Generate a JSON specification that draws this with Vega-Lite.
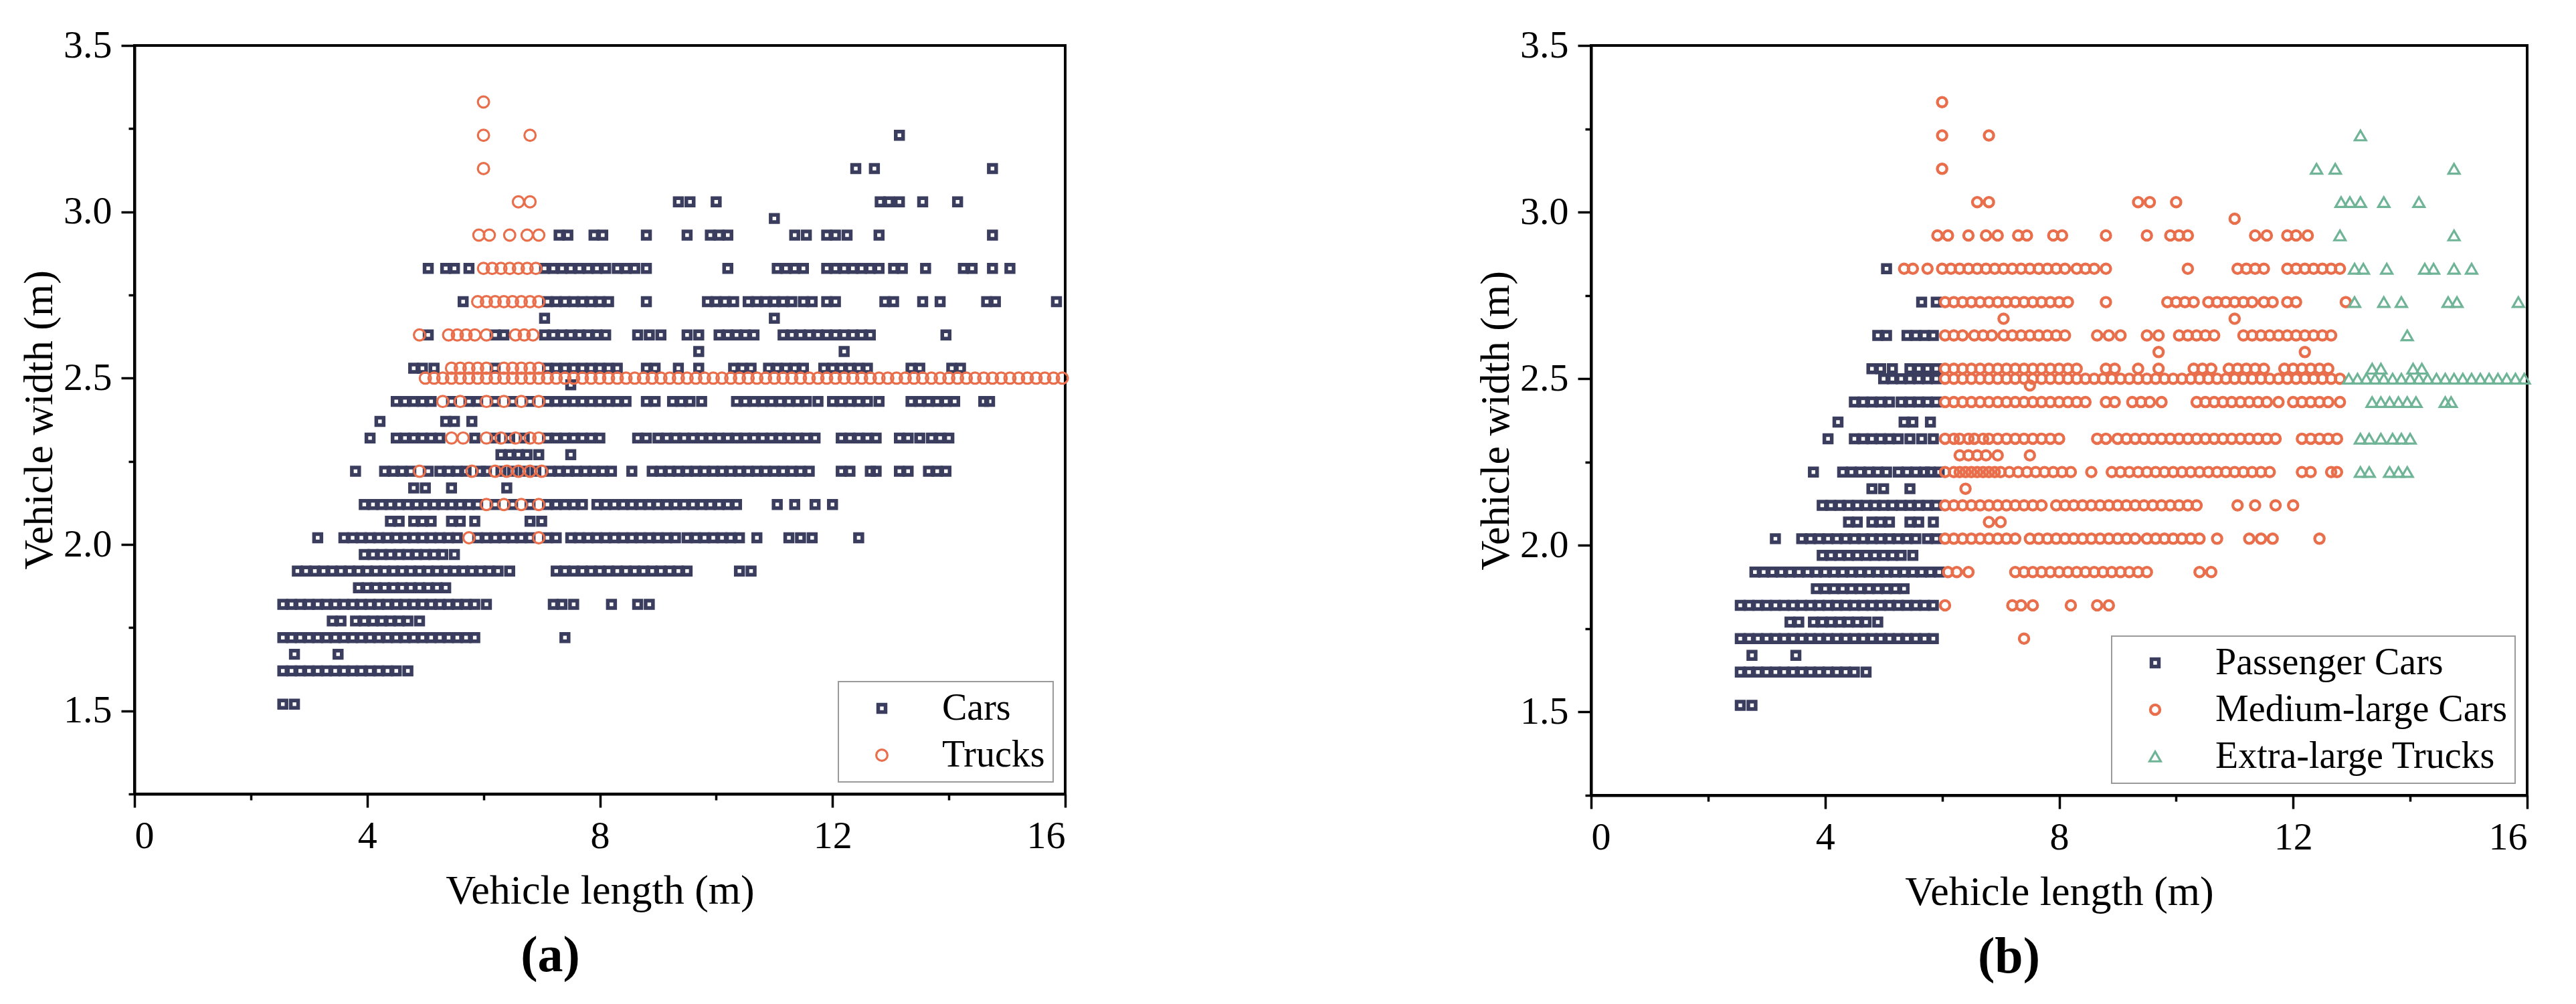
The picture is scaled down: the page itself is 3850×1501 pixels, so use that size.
{
"$schema":"https://vega.github.io/schema/vega-lite/v6.json",
"background":"white",
"padding":{"left":25,"top":37,"right":10,"bottom":10},
"config":{
"font":"Liberation Serif",
"view":{"stroke":"black","strokeWidth":4},
"axis":{"domainColor":"black","domainWidth":4,"tickColor":"black","tickWidth":3.5,"labelFont":"Liberation Serif","labelFontSize":58,"labelColor":"black","titleFont":"Liberation Serif","titleFontSize":62,"titleFontWeight":"normal","titleColor":"black","grid":false,"labelPadding":14},
"legend":{"orient":"bottom-right","offset":18,"strokeColor":"#9a9a9a","strokeWidth":2,"fillColor":"white","padding":12,"labelFont":"Liberation Serif","labelFontSize":56,"labelColor":"black","symbolOffset":25,"labelOffset":62,"rowPadding":14,"labelLimit":1000}
},
"datasets":{"pts":[
{"l":6.0,"w":3.33,"a":"Trucks","b":"Medium-large Cars"},
{"l":6.0,"w":3.23,"a":"Trucks","b":"Medium-large Cars"},{"l":6.8,"w":3.23,"a":"Trucks","b":"Medium-large Cars"},{"l":13.15,"w":3.23,"a":"Cars","b":"Extra-large Trucks"},
{"l":6.0,"w":3.13,"a":"Trucks","b":"Medium-large Cars"},{"l":12.4,"w":3.13,"a":"Cars","b":"Extra-large Trucks"},{"l":12.72,"w":3.13,"a":"Cars","b":"Extra-large Trucks"},{"l":14.75,"w":3.13,"a":"Cars","b":"Extra-large Trucks"},
{"l":6.6,"w":3.03,"a":"Trucks","b":"Medium-large Cars"},{"l":6.8,"w":3.03,"a":"Trucks","b":"Medium-large Cars"},{"l":9.35,"w":3.03,"a":"Cars","b":"Medium-large Cars"},{"l":9.55,"w":3.03,"a":"Cars","b":"Medium-large Cars"},{"l":10.0,"w":3.03,"a":"Cars","b":"Medium-large Cars"},{"l":12.82,"w":3.03,"a":"Cars","b":"Extra-large Trucks"},{"l":12.97,"w":3.03,"a":"Cars","b":"Extra-large Trucks"},{"l":13.15,"w":3.03,"a":"Cars","b":"Extra-large Trucks"},{"l":13.55,"w":3.03,"a":"Cars","b":"Extra-large Trucks"},{"l":14.15,"w":3.03,"a":"Cars","b":"Extra-large Trucks"},
{"l":11.0,"w":2.98,"a":"Cars","b":"Medium-large Cars"},
{"l":5.92,"w":2.93,"a":"Trucks","b":"Medium-large Cars"},{"l":6.1,"w":2.93,"a":"Trucks","b":"Medium-large Cars"},{"l":6.45,"w":2.93,"a":"Trucks","b":"Medium-large Cars"},{"l":6.75,"w":2.93,"a":"Trucks","b":"Medium-large Cars"},{"l":6.95,"w":2.93,"a":"Trucks","b":"Medium-large Cars"},
{"l":7.3,"w":2.93,"a":"Cars","b":"Medium-large Cars"},{"l":7.45,"w":2.93,"a":"Cars","b":"Medium-large Cars"},{"l":7.9,"w":2.93,"a":"Cars","b":"Medium-large Cars"},{"l":8.05,"w":2.93,"a":"Cars","b":"Medium-large Cars"},{"l":8.8,"w":2.93,"a":"Cars","b":"Medium-large Cars"},{"l":9.5,"w":2.93,"a":"Cars","b":"Medium-large Cars"},{"l":9.9,"w":2.93,"a":"Cars","b":"Medium-large Cars"},{"l":10.05,"w":2.93,"a":"Cars","b":"Medium-large Cars"},{"l":10.2,"w":2.93,"a":"Cars","b":"Medium-large Cars"},{"l":11.35,"w":2.93,"a":"Cars","b":"Medium-large Cars"},{"l":11.55,"w":2.93,"a":"Cars","b":"Medium-large Cars"},{"l":11.9,"w":2.93,"a":"Cars","b":"Medium-large Cars"},{"l":12.05,"w":2.93,"a":"Cars","b":"Medium-large Cars"},{"l":12.25,"w":2.93,"a":"Cars","b":"Medium-large Cars"},{"l":12.8,"w":2.93,"a":"Cars","b":"Extra-large Trucks"},{"l":14.75,"w":2.93,"a":"Cars","b":"Extra-large Trucks"},
{"l":5.05,"w":2.83,"a":"Cars","b":"Passenger Cars"},{"l":5.35,"w":2.83,"a":"Cars","b":"Medium-large Cars"},{"l":5.5,"w":2.83,"a":"Cars","b":"Medium-large Cars"},{"l":5.75,"w":2.83,"a":"Cars","b":"Medium-large Cars"},
{"l":6.0,"w":2.83,"a":"Trucks","b":"Medium-large Cars"},{"l":6.15,"w":2.83,"a":"Trucks","b":"Medium-large Cars"},{"l":6.3,"w":2.83,"a":"Trucks","b":"Medium-large Cars"},{"l":6.45,"w":2.83,"a":"Trucks","b":"Medium-large Cars"},{"l":6.6,"w":2.83,"a":"Trucks","b":"Medium-large Cars"},{"l":6.75,"w":2.83,"a":"Trucks","b":"Medium-large Cars"},{"l":6.9,"w":2.83,"a":"Trucks","b":"Medium-large Cars"},
{"l":7.05,"w":2.83,"a":"Cars","b":"Medium-large Cars"},{"l":7.2,"w":2.83,"a":"Cars","b":"Medium-large Cars"},{"l":7.35,"w":2.83,"a":"Cars","b":"Medium-large Cars"},{"l":7.5,"w":2.83,"a":"Cars","b":"Medium-large Cars"},{"l":7.65,"w":2.83,"a":"Cars","b":"Medium-large Cars"},{"l":7.8,"w":2.83,"a":"Cars","b":"Medium-large Cars"},{"l":7.95,"w":2.83,"a":"Cars","b":"Medium-large Cars"},{"l":8.1,"w":2.83,"a":"Cars","b":"Medium-large Cars"},{"l":8.3,"w":2.83,"a":"Cars","b":"Medium-large Cars"},{"l":8.45,"w":2.83,"a":"Cars","b":"Medium-large Cars"},{"l":8.6,"w":2.83,"a":"Cars","b":"Medium-large Cars"},{"l":8.8,"w":2.83,"a":"Cars","b":"Medium-large Cars"},{"l":10.2,"w":2.83,"a":"Cars","b":"Medium-large Cars"},{"l":11.05,"w":2.83,"a":"Cars","b":"Medium-large Cars"},{"l":11.2,"w":2.83,"a":"Cars","b":"Medium-large Cars"},{"l":11.35,"w":2.83,"a":"Cars","b":"Medium-large Cars"},{"l":11.5,"w":2.83,"a":"Cars","b":"Medium-large Cars"},{"l":11.9,"w":2.83,"a":"Cars","b":"Medium-large Cars"},{"l":12.05,"w":2.83,"a":"Cars","b":"Medium-large Cars"},{"l":12.2,"w":2.83,"a":"Cars","b":"Medium-large Cars"},{"l":12.35,"w":2.83,"a":"Cars","b":"Medium-large Cars"},{"l":12.5,"w":2.83,"a":"Cars","b":"Medium-large Cars"},{"l":12.65,"w":2.83,"a":"Cars","b":"Medium-large Cars"},{"l":12.8,"w":2.83,"a":"Cars","b":"Medium-large Cars"},
{"l":13.05,"w":2.83,"a":"Cars","b":"Extra-large Trucks"},{"l":13.2,"w":2.83,"a":"Cars","b":"Extra-large Trucks"},{"l":13.6,"w":2.83,"a":"Cars","b":"Extra-large Trucks"},{"l":14.25,"w":2.83,"a":"Cars","b":"Extra-large Trucks"},{"l":14.4,"w":2.83,"a":"Cars","b":"Extra-large Trucks"},{"l":14.75,"w":2.83,"a":"Cars","b":"Extra-large Trucks"},{"l":15.05,"w":2.83,"a":"Cars","b":"Extra-large Trucks"},
{"l":5.65,"w":2.73,"a":"Cars","b":"Passenger Cars"},{"l":5.9,"w":2.73,"a":"Trucks","b":"Passenger Cars"},
{"l":6.05,"w":2.73,"a":"Trucks","b":"Medium-large Cars"},{"l":6.2,"w":2.73,"a":"Trucks","b":"Medium-large Cars"},{"l":6.35,"w":2.73,"a":"Trucks","b":"Medium-large Cars"},{"l":6.5,"w":2.73,"a":"Trucks","b":"Medium-large Cars"},{"l":6.65,"w":2.73,"a":"Trucks","b":"Medium-large Cars"},{"l":6.8,"w":2.73,"a":"Trucks","b":"Medium-large Cars"},{"l":6.95,"w":2.73,"a":"Trucks","b":"Medium-large Cars"},
{"l":7.1,"w":2.73,"a":"Cars","b":"Medium-large Cars"},{"l":7.25,"w":2.73,"a":"Cars","b":"Medium-large Cars"},{"l":7.4,"w":2.73,"a":"Cars","b":"Medium-large Cars"},{"l":7.55,"w":2.73,"a":"Cars","b":"Medium-large Cars"},{"l":7.7,"w":2.73,"a":"Cars","b":"Medium-large Cars"},{"l":7.85,"w":2.73,"a":"Cars","b":"Medium-large Cars"},{"l":8.0,"w":2.73,"a":"Cars","b":"Medium-large Cars"},{"l":8.15,"w":2.73,"a":"Cars","b":"Medium-large Cars"},{"l":8.8,"w":2.73,"a":"Cars","b":"Medium-large Cars"},{"l":9.85,"w":2.73,"a":"Cars","b":"Medium-large Cars"},{"l":10.0,"w":2.73,"a":"Cars","b":"Medium-large Cars"},{"l":10.15,"w":2.73,"a":"Cars","b":"Medium-large Cars"},{"l":10.3,"w":2.73,"a":"Cars","b":"Medium-large Cars"},{"l":10.55,"w":2.73,"a":"Cars","b":"Medium-large Cars"},{"l":10.7,"w":2.73,"a":"Cars","b":"Medium-large Cars"},{"l":10.85,"w":2.73,"a":"Cars","b":"Medium-large Cars"},{"l":11.0,"w":2.73,"a":"Cars","b":"Medium-large Cars"},{"l":11.15,"w":2.73,"a":"Cars","b":"Medium-large Cars"},{"l":11.3,"w":2.73,"a":"Cars","b":"Medium-large Cars"},{"l":11.5,"w":2.73,"a":"Cars","b":"Medium-large Cars"},{"l":11.65,"w":2.73,"a":"Cars","b":"Medium-large Cars"},{"l":11.9,"w":2.73,"a":"Cars","b":"Medium-large Cars"},{"l":12.05,"w":2.73,"a":"Cars","b":"Medium-large Cars"},{"l":12.9,"w":2.73,"a":"Cars","b":"Medium-large Cars"},
{"l":13.05,"w":2.73,"a":"Cars","b":"Extra-large Trucks"},{"l":13.55,"w":2.73,"a":"Cars","b":"Extra-large Trucks"},{"l":13.85,"w":2.73,"a":"Cars","b":"Extra-large Trucks"},{"l":14.65,"w":2.73,"a":"Cars","b":"Extra-large Trucks"},{"l":14.8,"w":2.73,"a":"Cars","b":"Extra-large Trucks"},{"l":15.85,"w":2.73,"a":"Cars","b":"Extra-large Trucks"},
{"l":7.05,"w":2.68,"a":"Cars","b":"Medium-large Cars"},{"l":11.0,"w":2.68,"a":"Cars","b":"Medium-large Cars"},
{"l":4.9,"w":2.63,"a":"Trucks","b":"Passenger Cars"},{"l":5.05,"w":2.63,"a":"Cars","b":"Passenger Cars"},{"l":5.4,"w":2.63,"a":"Trucks","b":"Passenger Cars"},{"l":5.55,"w":2.63,"a":"Trucks","b":"Passenger Cars"},{"l":5.7,"w":2.63,"a":"Trucks","b":"Passenger Cars"},{"l":5.85,"w":2.63,"a":"Trucks","b":"Passenger Cars"},
{"l":6.05,"w":2.63,"a":"Trucks","b":"Medium-large Cars"},{"l":6.55,"w":2.63,"a":"Trucks","b":"Medium-large Cars"},{"l":6.7,"w":2.63,"a":"Trucks","b":"Medium-large Cars"},{"l":6.85,"w":2.63,"a":"Trucks","b":"Medium-large Cars"},
{"l":6.2,"w":2.63,"a":"Cars","b":"Medium-large Cars"},{"l":6.35,"w":2.63,"a":"Cars","b":"Medium-large Cars"},{"l":7.05,"w":2.63,"a":"Cars","b":"Medium-large Cars"},{"l":7.2,"w":2.63,"a":"Cars","b":"Medium-large Cars"},{"l":7.35,"w":2.63,"a":"Cars","b":"Medium-large Cars"},{"l":7.5,"w":2.63,"a":"Cars","b":"Medium-large Cars"},{"l":7.65,"w":2.63,"a":"Cars","b":"Medium-large Cars"},{"l":7.8,"w":2.63,"a":"Cars","b":"Medium-large Cars"},{"l":7.95,"w":2.63,"a":"Cars","b":"Medium-large Cars"},{"l":8.1,"w":2.63,"a":"Cars","b":"Medium-large Cars"},{"l":8.65,"w":2.63,"a":"Cars","b":"Medium-large Cars"},{"l":8.85,"w":2.63,"a":"Cars","b":"Medium-large Cars"},{"l":9.05,"w":2.63,"a":"Cars","b":"Medium-large Cars"},{"l":9.5,"w":2.63,"a":"Cars","b":"Medium-large Cars"},{"l":9.7,"w":2.63,"a":"Cars","b":"Medium-large Cars"},{"l":10.05,"w":2.63,"a":"Cars","b":"Medium-large Cars"},{"l":10.2,"w":2.63,"a":"Cars","b":"Medium-large Cars"},{"l":10.35,"w":2.63,"a":"Cars","b":"Medium-large Cars"},{"l":10.5,"w":2.63,"a":"Cars","b":"Medium-large Cars"},{"l":10.65,"w":2.63,"a":"Cars","b":"Medium-large Cars"},{"l":11.15,"w":2.63,"a":"Cars","b":"Medium-large Cars"},{"l":11.3,"w":2.63,"a":"Cars","b":"Medium-large Cars"},{"l":11.45,"w":2.63,"a":"Cars","b":"Medium-large Cars"},{"l":11.6,"w":2.63,"a":"Cars","b":"Medium-large Cars"},{"l":11.75,"w":2.63,"a":"Cars","b":"Medium-large Cars"},{"l":11.9,"w":2.63,"a":"Cars","b":"Medium-large Cars"},{"l":12.05,"w":2.63,"a":"Cars","b":"Medium-large Cars"},{"l":12.2,"w":2.63,"a":"Cars","b":"Medium-large Cars"},{"l":12.35,"w":2.63,"a":"Cars","b":"Medium-large Cars"},{"l":12.5,"w":2.63,"a":"Cars","b":"Medium-large Cars"},{"l":12.65,"w":2.63,"a":"Cars","b":"Medium-large Cars"},{"l":13.95,"w":2.63,"a":"Cars","b":"Extra-large Trucks"},
{"l":9.7,"w":2.58,"a":"Cars","b":"Medium-large Cars"},{"l":12.2,"w":2.58,"a":"Cars","b":"Medium-large Cars"},
{"l":4.8,"w":2.53,"a":"Cars","b":"Passenger Cars"},{"l":4.95,"w":2.53,"a":"Cars","b":"Passenger Cars"},{"l":5.15,"w":2.53,"a":"Cars","b":"Passenger Cars"},{"l":5.45,"w":2.53,"a":"Trucks","b":"Passenger Cars"},{"l":5.6,"w":2.53,"a":"Trucks","b":"Passenger Cars"},{"l":5.75,"w":2.53,"a":"Trucks","b":"Passenger Cars"},{"l":5.9,"w":2.53,"a":"Trucks","b":"Passenger Cars"},
{"l":6.05,"w":2.53,"a":"Trucks","b":"Medium-large Cars"},{"l":6.35,"w":2.53,"a":"Trucks","b":"Medium-large Cars"},{"l":6.5,"w":2.53,"a":"Trucks","b":"Medium-large Cars"},{"l":6.65,"w":2.53,"a":"Trucks","b":"Medium-large Cars"},{"l":6.8,"w":2.53,"a":"Trucks","b":"Medium-large Cars"},{"l":6.95,"w":2.53,"a":"Trucks","b":"Medium-large Cars"},
{"l":6.2,"w":2.53,"a":"Cars","b":"Medium-large Cars"},{"l":7.1,"w":2.53,"a":"Cars","b":"Medium-large Cars"},{"l":7.25,"w":2.53,"a":"Cars","b":"Medium-large Cars"},{"l":7.4,"w":2.53,"a":"Cars","b":"Medium-large Cars"},{"l":7.55,"w":2.53,"a":"Cars","b":"Medium-large Cars"},{"l":7.7,"w":2.53,"a":"Cars","b":"Medium-large Cars"},{"l":7.85,"w":2.53,"a":"Cars","b":"Medium-large Cars"},{"l":8.0,"w":2.53,"a":"Cars","b":"Medium-large Cars"},{"l":8.15,"w":2.53,"a":"Cars","b":"Medium-large Cars"},{"l":8.3,"w":2.53,"a":"Cars","b":"Medium-large Cars"},{"l":8.8,"w":2.53,"a":"Cars","b":"Medium-large Cars"},{"l":8.95,"w":2.53,"a":"Cars","b":"Medium-large Cars"},{"l":9.35,"w":2.53,"a":"Cars","b":"Medium-large Cars"},{"l":9.7,"w":2.53,"a":"Cars","b":"Medium-large Cars"},{"l":10.3,"w":2.53,"a":"Cars","b":"Medium-large Cars"},{"l":10.45,"w":2.53,"a":"Cars","b":"Medium-large Cars"},{"l":10.6,"w":2.53,"a":"Cars","b":"Medium-large Cars"},{"l":10.9,"w":2.53,"a":"Cars","b":"Medium-large Cars"},{"l":11.05,"w":2.53,"a":"Cars","b":"Medium-large Cars"},{"l":11.2,"w":2.53,"a":"Cars","b":"Medium-large Cars"},{"l":11.35,"w":2.53,"a":"Cars","b":"Medium-large Cars"},{"l":11.5,"w":2.53,"a":"Cars","b":"Medium-large Cars"},{"l":11.85,"w":2.53,"a":"Cars","b":"Medium-large Cars"},{"l":12.0,"w":2.53,"a":"Cars","b":"Medium-large Cars"},{"l":12.15,"w":2.53,"a":"Cars","b":"Medium-large Cars"},{"l":12.3,"w":2.53,"a":"Cars","b":"Medium-large Cars"},{"l":12.45,"w":2.53,"a":"Cars","b":"Medium-large Cars"},{"l":12.6,"w":2.53,"a":"Cars","b":"Medium-large Cars"},
{"l":13.35,"w":2.53,"a":"Cars","b":"Extra-large Trucks"},{"l":13.5,"w":2.53,"a":"Cars","b":"Extra-large Trucks"},{"l":14.05,"w":2.53,"a":"Cars","b":"Extra-large Trucks"},{"l":14.2,"w":2.53,"a":"Cars","b":"Extra-large Trucks"},
{"l":5.0,"w":2.5,"a":"Trucks","b":"Passenger Cars"},{"l":5.15,"w":2.5,"a":"Trucks","b":"Passenger Cars"},{"l":5.3,"w":2.5,"a":"Trucks","b":"Passenger Cars"},{"l":5.45,"w":2.5,"a":"Trucks","b":"Passenger Cars"},{"l":5.6,"w":2.5,"a":"Trucks","b":"Passenger Cars"},{"l":5.75,"w":2.5,"a":"Trucks","b":"Passenger Cars"},{"l":5.9,"w":2.5,"a":"Trucks","b":"Passenger Cars"},
{"l":6.05,"w":2.5,"a":"Trucks","b":"Medium-large Cars"},{"l":6.2,"w":2.5,"a":"Trucks","b":"Medium-large Cars"},{"l":6.35,"w":2.5,"a":"Trucks","b":"Medium-large Cars"},{"l":6.5,"w":2.5,"a":"Trucks","b":"Medium-large Cars"},{"l":6.65,"w":2.5,"a":"Trucks","b":"Medium-large Cars"},{"l":6.8,"w":2.5,"a":"Trucks","b":"Medium-large Cars"},{"l":6.95,"w":2.5,"a":"Trucks","b":"Medium-large Cars"},{"l":7.1,"w":2.5,"a":"Trucks","b":"Medium-large Cars"},{"l":7.25,"w":2.5,"a":"Trucks","b":"Medium-large Cars"},{"l":7.4,"w":2.5,"a":"Trucks","b":"Medium-large Cars"},{"l":7.55,"w":2.5,"a":"Trucks","b":"Medium-large Cars"},{"l":7.7,"w":2.5,"a":"Trucks","b":"Medium-large Cars"},{"l":7.85,"w":2.5,"a":"Trucks","b":"Medium-large Cars"},{"l":8.0,"w":2.5,"a":"Trucks","b":"Medium-large Cars"},{"l":8.15,"w":2.5,"a":"Trucks","b":"Medium-large Cars"},{"l":8.3,"w":2.5,"a":"Trucks","b":"Medium-large Cars"},{"l":8.45,"w":2.5,"a":"Trucks","b":"Medium-large Cars"},{"l":8.6,"w":2.5,"a":"Trucks","b":"Medium-large Cars"},{"l":8.75,"w":2.5,"a":"Trucks","b":"Medium-large Cars"},{"l":8.9,"w":2.5,"a":"Trucks","b":"Medium-large Cars"},{"l":9.05,"w":2.5,"a":"Trucks","b":"Medium-large Cars"},{"l":9.2,"w":2.5,"a":"Trucks","b":"Medium-large Cars"},{"l":9.35,"w":2.5,"a":"Trucks","b":"Medium-large Cars"},{"l":9.5,"w":2.5,"a":"Trucks","b":"Medium-large Cars"},{"l":9.65,"w":2.5,"a":"Trucks","b":"Medium-large Cars"},{"l":9.8,"w":2.5,"a":"Trucks","b":"Medium-large Cars"},{"l":9.95,"w":2.5,"a":"Trucks","b":"Medium-large Cars"},{"l":10.1,"w":2.5,"a":"Trucks","b":"Medium-large Cars"},{"l":10.25,"w":2.5,"a":"Trucks","b":"Medium-large Cars"},{"l":10.4,"w":2.5,"a":"Trucks","b":"Medium-large Cars"},{"l":10.55,"w":2.5,"a":"Trucks","b":"Medium-large Cars"},{"l":10.7,"w":2.5,"a":"Trucks","b":"Medium-large Cars"},{"l":10.85,"w":2.5,"a":"Trucks","b":"Medium-large Cars"},{"l":11.0,"w":2.5,"a":"Trucks","b":"Medium-large Cars"},{"l":11.15,"w":2.5,"a":"Trucks","b":"Medium-large Cars"},{"l":11.3,"w":2.5,"a":"Trucks","b":"Medium-large Cars"},{"l":11.45,"w":2.5,"a":"Trucks","b":"Medium-large Cars"},{"l":11.6,"w":2.5,"a":"Trucks","b":"Medium-large Cars"},{"l":11.75,"w":2.5,"a":"Trucks","b":"Medium-large Cars"},{"l":11.9,"w":2.5,"a":"Trucks","b":"Medium-large Cars"},{"l":12.05,"w":2.5,"a":"Trucks","b":"Medium-large Cars"},{"l":12.2,"w":2.5,"a":"Trucks","b":"Medium-large Cars"},{"l":12.35,"w":2.5,"a":"Trucks","b":"Medium-large Cars"},{"l":12.5,"w":2.5,"a":"Trucks","b":"Medium-large Cars"},{"l":12.65,"w":2.5,"a":"Trucks","b":"Medium-large Cars"},{"l":12.8,"w":2.5,"a":"Trucks","b":"Medium-large Cars"},
{"l":12.95,"w":2.5,"a":"Trucks","b":"Extra-large Trucks"},{"l":13.1,"w":2.5,"a":"Trucks","b":"Extra-large Trucks"},{"l":13.25,"w":2.5,"a":"Trucks","b":"Extra-large Trucks"},{"l":13.4,"w":2.5,"a":"Trucks","b":"Extra-large Trucks"},{"l":13.55,"w":2.5,"a":"Trucks","b":"Extra-large Trucks"},{"l":13.7,"w":2.5,"a":"Trucks","b":"Extra-large Trucks"},{"l":13.85,"w":2.5,"a":"Trucks","b":"Extra-large Trucks"},{"l":14.0,"w":2.5,"a":"Trucks","b":"Extra-large Trucks"},{"l":14.15,"w":2.5,"a":"Trucks","b":"Extra-large Trucks"},{"l":14.3,"w":2.5,"a":"Trucks","b":"Extra-large Trucks"},{"l":14.45,"w":2.5,"a":"Trucks","b":"Extra-large Trucks"},{"l":14.6,"w":2.5,"a":"Trucks","b":"Extra-large Trucks"},{"l":14.75,"w":2.5,"a":"Trucks","b":"Extra-large Trucks"},{"l":14.9,"w":2.5,"a":"Trucks","b":"Extra-large Trucks"},{"l":15.05,"w":2.5,"a":"Trucks","b":"Extra-large Trucks"},{"l":15.2,"w":2.5,"a":"Trucks","b":"Extra-large Trucks"},{"l":15.35,"w":2.5,"a":"Trucks","b":"Extra-large Trucks"},{"l":15.5,"w":2.5,"a":"Trucks","b":"Extra-large Trucks"},{"l":15.65,"w":2.5,"a":"Trucks","b":"Extra-large Trucks"},{"l":15.8,"w":2.5,"a":"Trucks","b":"Extra-large Trucks"},{"l":15.95,"w":2.5,"a":"Trucks","b":"Extra-large Trucks"},
{"l":7.5,"w":2.48,"a":"Cars","b":"Medium-large Cars"},
{"l":4.5,"w":2.43,"a":"Cars","b":"Passenger Cars"},{"l":4.65,"w":2.43,"a":"Cars","b":"Passenger Cars"},{"l":4.8,"w":2.43,"a":"Cars","b":"Passenger Cars"},{"l":4.95,"w":2.43,"a":"Cars","b":"Passenger Cars"},{"l":5.1,"w":2.43,"a":"Cars","b":"Passenger Cars"},{"l":5.45,"w":2.43,"a":"Cars","b":"Passenger Cars"},{"l":5.75,"w":2.43,"a":"Cars","b":"Passenger Cars"},{"l":5.9,"w":2.43,"a":"Cars","b":"Passenger Cars"},{"l":5.3,"w":2.43,"a":"Trucks","b":"Passenger Cars"},{"l":5.6,"w":2.43,"a":"Trucks","b":"Passenger Cars"},
{"l":6.05,"w":2.43,"a":"Trucks","b":"Medium-large Cars"},{"l":6.35,"w":2.43,"a":"Trucks","b":"Medium-large Cars"},{"l":6.65,"w":2.43,"a":"Trucks","b":"Medium-large Cars"},{"l":6.95,"w":2.43,"a":"Trucks","b":"Medium-large Cars"},
{"l":6.2,"w":2.43,"a":"Cars","b":"Medium-large Cars"},{"l":6.5,"w":2.43,"a":"Cars","b":"Medium-large Cars"},{"l":6.8,"w":2.43,"a":"Cars","b":"Medium-large Cars"},{"l":7.1,"w":2.43,"a":"Cars","b":"Medium-large Cars"},{"l":7.25,"w":2.43,"a":"Cars","b":"Medium-large Cars"},{"l":7.4,"w":2.43,"a":"Cars","b":"Medium-large Cars"},{"l":7.55,"w":2.43,"a":"Cars","b":"Medium-large Cars"},{"l":7.7,"w":2.43,"a":"Cars","b":"Medium-large Cars"},{"l":7.85,"w":2.43,"a":"Cars","b":"Medium-large Cars"},{"l":8.0,"w":2.43,"a":"Cars","b":"Medium-large Cars"},{"l":8.15,"w":2.43,"a":"Cars","b":"Medium-large Cars"},{"l":8.3,"w":2.43,"a":"Cars","b":"Medium-large Cars"},{"l":8.45,"w":2.43,"a":"Cars","b":"Medium-large Cars"},{"l":8.8,"w":2.43,"a":"Cars","b":"Medium-large Cars"},{"l":8.95,"w":2.43,"a":"Cars","b":"Medium-large Cars"},{"l":9.25,"w":2.43,"a":"Cars","b":"Medium-large Cars"},{"l":9.4,"w":2.43,"a":"Cars","b":"Medium-large Cars"},{"l":9.55,"w":2.43,"a":"Cars","b":"Medium-large Cars"},{"l":9.75,"w":2.43,"a":"Cars","b":"Medium-large Cars"},{"l":10.35,"w":2.43,"a":"Cars","b":"Medium-large Cars"},{"l":10.5,"w":2.43,"a":"Cars","b":"Medium-large Cars"},{"l":10.65,"w":2.43,"a":"Cars","b":"Medium-large Cars"},{"l":10.8,"w":2.43,"a":"Cars","b":"Medium-large Cars"},{"l":10.95,"w":2.43,"a":"Cars","b":"Medium-large Cars"},{"l":11.1,"w":2.43,"a":"Cars","b":"Medium-large Cars"},{"l":11.25,"w":2.43,"a":"Cars","b":"Medium-large Cars"},{"l":11.4,"w":2.43,"a":"Cars","b":"Medium-large Cars"},{"l":11.55,"w":2.43,"a":"Cars","b":"Medium-large Cars"},{"l":11.75,"w":2.43,"a":"Cars","b":"Medium-large Cars"},{"l":12.0,"w":2.43,"a":"Cars","b":"Medium-large Cars"},{"l":12.15,"w":2.43,"a":"Cars","b":"Medium-large Cars"},{"l":12.3,"w":2.43,"a":"Cars","b":"Medium-large Cars"},{"l":12.45,"w":2.43,"a":"Cars","b":"Medium-large Cars"},{"l":12.6,"w":2.43,"a":"Cars","b":"Medium-large Cars"},{"l":12.8,"w":2.43,"a":"Cars","b":"Medium-large Cars"},
{"l":13.35,"w":2.43,"a":"Cars","b":"Extra-large Trucks"},{"l":13.5,"w":2.43,"a":"Cars","b":"Extra-large Trucks"},{"l":13.65,"w":2.43,"a":"Cars","b":"Extra-large Trucks"},{"l":13.8,"w":2.43,"a":"Cars","b":"Extra-large Trucks"},{"l":13.95,"w":2.43,"a":"Cars","b":"Extra-large Trucks"},{"l":14.1,"w":2.43,"a":"Cars","b":"Extra-large Trucks"},{"l":14.6,"w":2.43,"a":"Cars","b":"Extra-large Trucks"},{"l":14.7,"w":2.43,"a":"Cars","b":"Extra-large Trucks"},
{"l":4.22,"w":2.37,"a":"Cars","b":"Passenger Cars"},{"l":5.35,"w":2.37,"a":"Cars","b":"Passenger Cars"},{"l":5.5,"w":2.37,"a":"Cars","b":"Passenger Cars"},{"l":5.8,"w":2.37,"a":"Cars","b":"Passenger Cars"},
{"l":4.05,"w":2.32,"a":"Cars","b":"Passenger Cars"},{"l":4.5,"w":2.32,"a":"Cars","b":"Passenger Cars"},{"l":4.65,"w":2.32,"a":"Cars","b":"Passenger Cars"},{"l":4.8,"w":2.32,"a":"Cars","b":"Passenger Cars"},{"l":4.95,"w":2.32,"a":"Cars","b":"Passenger Cars"},{"l":5.1,"w":2.32,"a":"Cars","b":"Passenger Cars"},{"l":5.25,"w":2.32,"a":"Cars","b":"Passenger Cars"},{"l":5.85,"w":2.32,"a":"Cars","b":"Passenger Cars"},{"l":5.45,"w":2.32,"a":"Trucks","b":"Passenger Cars"},{"l":5.65,"w":2.32,"a":"Trucks","b":"Passenger Cars"},
{"l":6.05,"w":2.32,"a":"Trucks","b":"Medium-large Cars"},{"l":6.3,"w":2.32,"a":"Trucks","b":"Medium-large Cars"},{"l":6.55,"w":2.32,"a":"Trucks","b":"Medium-large Cars"},{"l":6.8,"w":2.32,"a":"Trucks","b":"Medium-large Cars"},{"l":6.95,"w":2.32,"a":"Trucks","b":"Medium-large Cars"},
{"l":6.2,"w":2.32,"a":"Cars","b":"Medium-large Cars"},{"l":6.45,"w":2.32,"a":"Cars","b":"Medium-large Cars"},{"l":6.7,"w":2.32,"a":"Cars","b":"Medium-large Cars"},{"l":7.1,"w":2.32,"a":"Cars","b":"Medium-large Cars"},{"l":7.25,"w":2.32,"a":"Cars","b":"Medium-large Cars"},{"l":7.4,"w":2.32,"a":"Cars","b":"Medium-large Cars"},{"l":7.55,"w":2.32,"a":"Cars","b":"Medium-large Cars"},{"l":7.7,"w":2.32,"a":"Cars","b":"Medium-large Cars"},{"l":7.85,"w":2.32,"a":"Cars","b":"Medium-large Cars"},{"l":8.0,"w":2.32,"a":"Cars","b":"Medium-large Cars"},{"l":8.65,"w":2.32,"a":"Cars","b":"Medium-large Cars"},{"l":8.8,"w":2.32,"a":"Cars","b":"Medium-large Cars"},{"l":9.0,"w":2.32,"a":"Cars","b":"Medium-large Cars"},{"l":9.15,"w":2.32,"a":"Cars","b":"Medium-large Cars"},{"l":9.3,"w":2.32,"a":"Cars","b":"Medium-large Cars"},{"l":9.45,"w":2.32,"a":"Cars","b":"Medium-large Cars"},{"l":9.6,"w":2.32,"a":"Cars","b":"Medium-large Cars"},{"l":9.75,"w":2.32,"a":"Cars","b":"Medium-large Cars"},{"l":9.9,"w":2.32,"a":"Cars","b":"Medium-large Cars"},{"l":10.05,"w":2.32,"a":"Cars","b":"Medium-large Cars"},{"l":10.2,"w":2.32,"a":"Cars","b":"Medium-large Cars"},{"l":10.35,"w":2.32,"a":"Cars","b":"Medium-large Cars"},{"l":10.5,"w":2.32,"a":"Cars","b":"Medium-large Cars"},{"l":10.65,"w":2.32,"a":"Cars","b":"Medium-large Cars"},{"l":10.8,"w":2.32,"a":"Cars","b":"Medium-large Cars"},{"l":10.95,"w":2.32,"a":"Cars","b":"Medium-large Cars"},{"l":11.1,"w":2.32,"a":"Cars","b":"Medium-large Cars"},{"l":11.25,"w":2.32,"a":"Cars","b":"Medium-large Cars"},{"l":11.4,"w":2.32,"a":"Cars","b":"Medium-large Cars"},{"l":11.55,"w":2.32,"a":"Cars","b":"Medium-large Cars"},{"l":11.7,"w":2.32,"a":"Cars","b":"Medium-large Cars"},{"l":12.15,"w":2.32,"a":"Cars","b":"Medium-large Cars"},{"l":12.3,"w":2.32,"a":"Cars","b":"Medium-large Cars"},{"l":12.45,"w":2.32,"a":"Cars","b":"Medium-large Cars"},{"l":12.6,"w":2.32,"a":"Cars","b":"Medium-large Cars"},{"l":12.75,"w":2.32,"a":"Cars","b":"Medium-large Cars"},
{"l":13.15,"w":2.32,"a":"Cars","b":"Extra-large Trucks"},{"l":13.3,"w":2.32,"a":"Cars","b":"Extra-large Trucks"},{"l":13.5,"w":2.32,"a":"Cars","b":"Extra-large Trucks"},{"l":13.7,"w":2.32,"a":"Cars","b":"Extra-large Trucks"},{"l":13.85,"w":2.32,"a":"Cars","b":"Extra-large Trucks"},{"l":14.0,"w":2.32,"a":"Cars","b":"Extra-large Trucks"},
{"l":6.3,"w":2.27,"a":"Cars","b":"Medium-large Cars"},{"l":6.45,"w":2.27,"a":"Cars","b":"Medium-large Cars"},{"l":6.6,"w":2.27,"a":"Cars","b":"Medium-large Cars"},{"l":6.75,"w":2.27,"a":"Cars","b":"Medium-large Cars"},{"l":6.95,"w":2.27,"a":"Cars","b":"Medium-large Cars"},{"l":7.5,"w":2.27,"a":"Cars","b":"Medium-large Cars"},
{"l":3.8,"w":2.22,"a":"Cars","b":"Passenger Cars"},{"l":4.3,"w":2.22,"a":"Cars","b":"Passenger Cars"},{"l":4.45,"w":2.22,"a":"Cars","b":"Passenger Cars"},{"l":4.6,"w":2.22,"a":"Cars","b":"Passenger Cars"},{"l":4.75,"w":2.22,"a":"Cars","b":"Passenger Cars"},{"l":5.05,"w":2.22,"a":"Cars","b":"Passenger Cars"},{"l":5.25,"w":2.22,"a":"Cars","b":"Passenger Cars"},{"l":5.4,"w":2.22,"a":"Cars","b":"Passenger Cars"},{"l":5.55,"w":2.22,"a":"Cars","b":"Passenger Cars"},{"l":5.7,"w":2.22,"a":"Cars","b":"Passenger Cars"},{"l":5.95,"w":2.22,"a":"Cars","b":"Passenger Cars"},{"l":4.9,"w":2.22,"a":"Trucks","b":"Passenger Cars"},{"l":5.8,"w":2.22,"a":"Trucks","b":"Passenger Cars"},
{"l":6.2,"w":2.22,"a":"Trucks","b":"Medium-large Cars"},{"l":6.4,"w":2.22,"a":"Trucks","b":"Medium-large Cars"},{"l":6.6,"w":2.22,"a":"Trucks","b":"Medium-large Cars"},{"l":6.8,"w":2.22,"a":"Trucks","b":"Medium-large Cars"},{"l":7.0,"w":2.22,"a":"Trucks","b":"Medium-large Cars"},
{"l":6.05,"w":2.22,"a":"Cars","b":"Medium-large Cars"},{"l":6.3,"w":2.22,"a":"Cars","b":"Medium-large Cars"},{"l":6.5,"w":2.22,"a":"Cars","b":"Medium-large Cars"},{"l":6.7,"w":2.22,"a":"Cars","b":"Medium-large Cars"},{"l":6.9,"w":2.22,"a":"Cars","b":"Medium-large Cars"},{"l":7.15,"w":2.22,"a":"Cars","b":"Medium-large Cars"},{"l":7.3,"w":2.22,"a":"Cars","b":"Medium-large Cars"},{"l":7.45,"w":2.22,"a":"Cars","b":"Medium-large Cars"},{"l":7.6,"w":2.22,"a":"Cars","b":"Medium-large Cars"},{"l":7.75,"w":2.22,"a":"Cars","b":"Medium-large Cars"},{"l":7.9,"w":2.22,"a":"Cars","b":"Medium-large Cars"},{"l":8.05,"w":2.22,"a":"Cars","b":"Medium-large Cars"},{"l":8.2,"w":2.22,"a":"Cars","b":"Medium-large Cars"},{"l":8.55,"w":2.22,"a":"Cars","b":"Medium-large Cars"},{"l":8.9,"w":2.22,"a":"Cars","b":"Medium-large Cars"},{"l":9.05,"w":2.22,"a":"Cars","b":"Medium-large Cars"},{"l":9.2,"w":2.22,"a":"Cars","b":"Medium-large Cars"},{"l":9.35,"w":2.22,"a":"Cars","b":"Medium-large Cars"},{"l":9.5,"w":2.22,"a":"Cars","b":"Medium-large Cars"},{"l":9.65,"w":2.22,"a":"Cars","b":"Medium-large Cars"},{"l":9.8,"w":2.22,"a":"Cars","b":"Medium-large Cars"},{"l":9.95,"w":2.22,"a":"Cars","b":"Medium-large Cars"},{"l":10.1,"w":2.22,"a":"Cars","b":"Medium-large Cars"},{"l":10.25,"w":2.22,"a":"Cars","b":"Medium-large Cars"},{"l":10.4,"w":2.22,"a":"Cars","b":"Medium-large Cars"},{"l":10.55,"w":2.22,"a":"Cars","b":"Medium-large Cars"},{"l":10.7,"w":2.22,"a":"Cars","b":"Medium-large Cars"},{"l":10.85,"w":2.22,"a":"Cars","b":"Medium-large Cars"},{"l":11.0,"w":2.22,"a":"Cars","b":"Medium-large Cars"},{"l":11.15,"w":2.22,"a":"Cars","b":"Medium-large Cars"},{"l":11.3,"w":2.22,"a":"Cars","b":"Medium-large Cars"},{"l":11.45,"w":2.22,"a":"Cars","b":"Medium-large Cars"},{"l":11.6,"w":2.22,"a":"Cars","b":"Medium-large Cars"},{"l":12.15,"w":2.22,"a":"Cars","b":"Medium-large Cars"},{"l":12.3,"w":2.22,"a":"Cars","b":"Medium-large Cars"},{"l":12.65,"w":2.22,"a":"Cars","b":"Medium-large Cars"},{"l":12.75,"w":2.22,"a":"Cars","b":"Medium-large Cars"},
{"l":13.15,"w":2.22,"a":"Cars","b":"Extra-large Trucks"},{"l":13.3,"w":2.22,"a":"Cars","b":"Extra-large Trucks"},{"l":13.65,"w":2.22,"a":"Cars","b":"Extra-large Trucks"},{"l":13.8,"w":2.22,"a":"Cars","b":"Extra-large Trucks"},{"l":13.95,"w":2.22,"a":"Cars","b":"Extra-large Trucks"},
{"l":4.8,"w":2.17,"a":"Cars","b":"Passenger Cars"},{"l":5.0,"w":2.17,"a":"Cars","b":"Passenger Cars"},{"l":5.45,"w":2.17,"a":"Cars","b":"Passenger Cars"},{"l":6.4,"w":2.17,"a":"Cars","b":"Medium-large Cars"},
{"l":3.95,"w":2.12,"a":"Cars","b":"Passenger Cars"},{"l":4.1,"w":2.12,"a":"Cars","b":"Passenger Cars"},{"l":4.25,"w":2.12,"a":"Cars","b":"Passenger Cars"},{"l":4.4,"w":2.12,"a":"Cars","b":"Passenger Cars"},{"l":4.55,"w":2.12,"a":"Cars","b":"Passenger Cars"},{"l":4.7,"w":2.12,"a":"Cars","b":"Passenger Cars"},{"l":4.85,"w":2.12,"a":"Cars","b":"Passenger Cars"},{"l":5.0,"w":2.12,"a":"Cars","b":"Passenger Cars"},{"l":5.15,"w":2.12,"a":"Cars","b":"Passenger Cars"},{"l":5.3,"w":2.12,"a":"Cars","b":"Passenger Cars"},{"l":5.45,"w":2.12,"a":"Cars","b":"Passenger Cars"},{"l":5.6,"w":2.12,"a":"Cars","b":"Passenger Cars"},{"l":5.75,"w":2.12,"a":"Cars","b":"Passenger Cars"},{"l":5.9,"w":2.12,"a":"Cars","b":"Passenger Cars"},
{"l":6.05,"w":2.12,"a":"Trucks","b":"Medium-large Cars"},{"l":6.35,"w":2.12,"a":"Trucks","b":"Medium-large Cars"},{"l":6.65,"w":2.12,"a":"Trucks","b":"Medium-large Cars"},{"l":6.95,"w":2.12,"a":"Trucks","b":"Medium-large Cars"},
{"l":6.2,"w":2.12,"a":"Cars","b":"Medium-large Cars"},{"l":6.5,"w":2.12,"a":"Cars","b":"Medium-large Cars"},{"l":6.8,"w":2.12,"a":"Cars","b":"Medium-large Cars"},{"l":7.1,"w":2.12,"a":"Cars","b":"Medium-large Cars"},{"l":7.25,"w":2.12,"a":"Cars","b":"Medium-large Cars"},{"l":7.4,"w":2.12,"a":"Cars","b":"Medium-large Cars"},{"l":7.55,"w":2.12,"a":"Cars","b":"Medium-large Cars"},{"l":7.7,"w":2.12,"a":"Cars","b":"Medium-large Cars"},{"l":7.95,"w":2.12,"a":"Cars","b":"Medium-large Cars"},{"l":8.1,"w":2.12,"a":"Cars","b":"Medium-large Cars"},{"l":8.25,"w":2.12,"a":"Cars","b":"Medium-large Cars"},{"l":8.4,"w":2.12,"a":"Cars","b":"Medium-large Cars"},{"l":8.55,"w":2.12,"a":"Cars","b":"Medium-large Cars"},{"l":8.7,"w":2.12,"a":"Cars","b":"Medium-large Cars"},{"l":8.85,"w":2.12,"a":"Cars","b":"Medium-large Cars"},{"l":9.0,"w":2.12,"a":"Cars","b":"Medium-large Cars"},{"l":9.15,"w":2.12,"a":"Cars","b":"Medium-large Cars"},{"l":9.3,"w":2.12,"a":"Cars","b":"Medium-large Cars"},{"l":9.45,"w":2.12,"a":"Cars","b":"Medium-large Cars"},{"l":9.6,"w":2.12,"a":"Cars","b":"Medium-large Cars"},{"l":9.75,"w":2.12,"a":"Cars","b":"Medium-large Cars"},{"l":9.9,"w":2.12,"a":"Cars","b":"Medium-large Cars"},{"l":10.05,"w":2.12,"a":"Cars","b":"Medium-large Cars"},{"l":10.2,"w":2.12,"a":"Cars","b":"Medium-large Cars"},{"l":10.35,"w":2.12,"a":"Cars","b":"Medium-large Cars"},{"l":11.05,"w":2.12,"a":"Cars","b":"Medium-large Cars"},{"l":11.35,"w":2.12,"a":"Cars","b":"Medium-large Cars"},{"l":11.7,"w":2.12,"a":"Cars","b":"Medium-large Cars"},{"l":12.0,"w":2.12,"a":"Cars","b":"Medium-large Cars"},
{"l":4.4,"w":2.07,"a":"Cars","b":"Passenger Cars"},{"l":4.55,"w":2.07,"a":"Cars","b":"Passenger Cars"},{"l":4.8,"w":2.07,"a":"Cars","b":"Passenger Cars"},{"l":4.95,"w":2.07,"a":"Cars","b":"Passenger Cars"},{"l":5.1,"w":2.07,"a":"Cars","b":"Passenger Cars"},{"l":5.45,"w":2.07,"a":"Cars","b":"Passenger Cars"},{"l":5.6,"w":2.07,"a":"Cars","b":"Passenger Cars"},{"l":5.85,"w":2.07,"a":"Cars","b":"Passenger Cars"},{"l":6.8,"w":2.07,"a":"Cars","b":"Medium-large Cars"},{"l":7.0,"w":2.07,"a":"Cars","b":"Medium-large Cars"},
{"l":3.15,"w":2.02,"a":"Cars","b":"Passenger Cars"},{"l":3.6,"w":2.02,"a":"Cars","b":"Passenger Cars"},{"l":3.75,"w":2.02,"a":"Cars","b":"Passenger Cars"},{"l":3.9,"w":2.02,"a":"Cars","b":"Passenger Cars"},{"l":4.05,"w":2.02,"a":"Cars","b":"Passenger Cars"},{"l":4.2,"w":2.02,"a":"Cars","b":"Passenger Cars"},{"l":4.35,"w":2.02,"a":"Cars","b":"Passenger Cars"},{"l":4.5,"w":2.02,"a":"Cars","b":"Passenger Cars"},{"l":4.65,"w":2.02,"a":"Cars","b":"Passenger Cars"},{"l":4.8,"w":2.02,"a":"Cars","b":"Passenger Cars"},{"l":4.95,"w":2.02,"a":"Cars","b":"Passenger Cars"},{"l":5.1,"w":2.02,"a":"Cars","b":"Passenger Cars"},{"l":5.25,"w":2.02,"a":"Cars","b":"Passenger Cars"},{"l":5.4,"w":2.02,"a":"Cars","b":"Passenger Cars"},{"l":5.55,"w":2.02,"a":"Cars","b":"Passenger Cars"},{"l":5.9,"w":2.02,"a":"Cars","b":"Passenger Cars"},{"l":5.75,"w":2.02,"a":"Trucks","b":"Passenger Cars"},{"l":6.95,"w":2.02,"a":"Trucks","b":"Medium-large Cars"},
{"l":6.05,"w":2.02,"a":"Cars","b":"Medium-large Cars"},{"l":6.2,"w":2.02,"a":"Cars","b":"Medium-large Cars"},{"l":6.35,"w":2.02,"a":"Cars","b":"Medium-large Cars"},{"l":6.5,"w":2.02,"a":"Cars","b":"Medium-large Cars"},{"l":6.65,"w":2.02,"a":"Cars","b":"Medium-large Cars"},{"l":6.8,"w":2.02,"a":"Cars","b":"Medium-large Cars"},{"l":7.1,"w":2.02,"a":"Cars","b":"Medium-large Cars"},{"l":7.25,"w":2.02,"a":"Cars","b":"Medium-large Cars"},{"l":7.5,"w":2.02,"a":"Cars","b":"Medium-large Cars"},{"l":7.65,"w":2.02,"a":"Cars","b":"Medium-large Cars"},{"l":7.8,"w":2.02,"a":"Cars","b":"Medium-large Cars"},{"l":7.95,"w":2.02,"a":"Cars","b":"Medium-large Cars"},{"l":8.1,"w":2.02,"a":"Cars","b":"Medium-large Cars"},{"l":8.25,"w":2.02,"a":"Cars","b":"Medium-large Cars"},{"l":8.4,"w":2.02,"a":"Cars","b":"Medium-large Cars"},{"l":8.55,"w":2.02,"a":"Cars","b":"Medium-large Cars"},{"l":8.7,"w":2.02,"a":"Cars","b":"Medium-large Cars"},{"l":8.85,"w":2.02,"a":"Cars","b":"Medium-large Cars"},{"l":9.0,"w":2.02,"a":"Cars","b":"Medium-large Cars"},{"l":9.15,"w":2.02,"a":"Cars","b":"Medium-large Cars"},{"l":9.3,"w":2.02,"a":"Cars","b":"Medium-large Cars"},{"l":9.5,"w":2.02,"a":"Cars","b":"Medium-large Cars"},{"l":9.65,"w":2.02,"a":"Cars","b":"Medium-large Cars"},{"l":9.8,"w":2.02,"a":"Cars","b":"Medium-large Cars"},{"l":9.95,"w":2.02,"a":"Cars","b":"Medium-large Cars"},{"l":10.1,"w":2.02,"a":"Cars","b":"Medium-large Cars"},{"l":10.25,"w":2.02,"a":"Cars","b":"Medium-large Cars"},{"l":10.4,"w":2.02,"a":"Cars","b":"Medium-large Cars"},{"l":10.7,"w":2.02,"a":"Cars","b":"Medium-large Cars"},{"l":11.25,"w":2.02,"a":"Cars","b":"Medium-large Cars"},{"l":11.45,"w":2.02,"a":"Cars","b":"Medium-large Cars"},{"l":11.65,"w":2.02,"a":"Cars","b":"Medium-large Cars"},{"l":12.45,"w":2.02,"a":"Cars","b":"Medium-large Cars"},
{"l":3.95,"w":1.97,"a":"Cars","b":"Passenger Cars"},{"l":4.1,"w":1.97,"a":"Cars","b":"Passenger Cars"},{"l":4.25,"w":1.97,"a":"Cars","b":"Passenger Cars"},{"l":4.4,"w":1.97,"a":"Cars","b":"Passenger Cars"},{"l":4.55,"w":1.97,"a":"Cars","b":"Passenger Cars"},{"l":4.7,"w":1.97,"a":"Cars","b":"Passenger Cars"},{"l":4.85,"w":1.97,"a":"Cars","b":"Passenger Cars"},{"l":5.0,"w":1.97,"a":"Cars","b":"Passenger Cars"},{"l":5.15,"w":1.97,"a":"Cars","b":"Passenger Cars"},{"l":5.3,"w":1.97,"a":"Cars","b":"Passenger Cars"},{"l":5.5,"w":1.97,"a":"Cars","b":"Passenger Cars"},
{"l":2.8,"w":1.92,"a":"Cars","b":"Passenger Cars"},{"l":2.95,"w":1.92,"a":"Cars","b":"Passenger Cars"},{"l":3.1,"w":1.92,"a":"Cars","b":"Passenger Cars"},{"l":3.25,"w":1.92,"a":"Cars","b":"Passenger Cars"},{"l":3.4,"w":1.92,"a":"Cars","b":"Passenger Cars"},{"l":3.55,"w":1.92,"a":"Cars","b":"Passenger Cars"},{"l":3.7,"w":1.92,"a":"Cars","b":"Passenger Cars"},{"l":3.85,"w":1.92,"a":"Cars","b":"Passenger Cars"},{"l":4.0,"w":1.92,"a":"Cars","b":"Passenger Cars"},{"l":4.15,"w":1.92,"a":"Cars","b":"Passenger Cars"},{"l":4.3,"w":1.92,"a":"Cars","b":"Passenger Cars"},{"l":4.45,"w":1.92,"a":"Cars","b":"Passenger Cars"},{"l":4.6,"w":1.92,"a":"Cars","b":"Passenger Cars"},{"l":4.75,"w":1.92,"a":"Cars","b":"Passenger Cars"},{"l":4.9,"w":1.92,"a":"Cars","b":"Passenger Cars"},{"l":5.05,"w":1.92,"a":"Cars","b":"Passenger Cars"},{"l":5.2,"w":1.92,"a":"Cars","b":"Passenger Cars"},{"l":5.35,"w":1.92,"a":"Cars","b":"Passenger Cars"},{"l":5.5,"w":1.92,"a":"Cars","b":"Passenger Cars"},{"l":5.65,"w":1.92,"a":"Cars","b":"Passenger Cars"},{"l":5.8,"w":1.92,"a":"Cars","b":"Passenger Cars"},{"l":5.95,"w":1.92,"a":"Cars","b":"Passenger Cars"},
{"l":6.1,"w":1.92,"a":"Cars","b":"Medium-large Cars"},{"l":6.25,"w":1.92,"a":"Cars","b":"Medium-large Cars"},{"l":6.45,"w":1.92,"a":"Cars","b":"Medium-large Cars"},{"l":7.25,"w":1.92,"a":"Cars","b":"Medium-large Cars"},{"l":7.4,"w":1.92,"a":"Cars","b":"Medium-large Cars"},{"l":7.55,"w":1.92,"a":"Cars","b":"Medium-large Cars"},{"l":7.7,"w":1.92,"a":"Cars","b":"Medium-large Cars"},{"l":7.85,"w":1.92,"a":"Cars","b":"Medium-large Cars"},{"l":8.0,"w":1.92,"a":"Cars","b":"Medium-large Cars"},{"l":8.15,"w":1.92,"a":"Cars","b":"Medium-large Cars"},{"l":8.3,"w":1.92,"a":"Cars","b":"Medium-large Cars"},{"l":8.45,"w":1.92,"a":"Cars","b":"Medium-large Cars"},{"l":8.6,"w":1.92,"a":"Cars","b":"Medium-large Cars"},{"l":8.75,"w":1.92,"a":"Cars","b":"Medium-large Cars"},{"l":8.9,"w":1.92,"a":"Cars","b":"Medium-large Cars"},{"l":9.05,"w":1.92,"a":"Cars","b":"Medium-large Cars"},{"l":9.2,"w":1.92,"a":"Cars","b":"Medium-large Cars"},{"l":9.35,"w":1.92,"a":"Cars","b":"Medium-large Cars"},{"l":9.5,"w":1.92,"a":"Cars","b":"Medium-large Cars"},{"l":10.4,"w":1.92,"a":"Cars","b":"Medium-large Cars"},{"l":10.6,"w":1.92,"a":"Cars","b":"Medium-large Cars"},
{"l":3.85,"w":1.87,"a":"Cars","b":"Passenger Cars"},{"l":4.0,"w":1.87,"a":"Cars","b":"Passenger Cars"},{"l":4.15,"w":1.87,"a":"Cars","b":"Passenger Cars"},{"l":4.3,"w":1.87,"a":"Cars","b":"Passenger Cars"},{"l":4.45,"w":1.87,"a":"Cars","b":"Passenger Cars"},{"l":4.6,"w":1.87,"a":"Cars","b":"Passenger Cars"},{"l":4.75,"w":1.87,"a":"Cars","b":"Passenger Cars"},{"l":4.9,"w":1.87,"a":"Cars","b":"Passenger Cars"},{"l":5.05,"w":1.87,"a":"Cars","b":"Passenger Cars"},{"l":5.2,"w":1.87,"a":"Cars","b":"Passenger Cars"},{"l":5.35,"w":1.87,"a":"Cars","b":"Passenger Cars"},
{"l":2.55,"w":1.82,"a":"Cars","b":"Passenger Cars"},{"l":2.7,"w":1.82,"a":"Cars","b":"Passenger Cars"},{"l":2.85,"w":1.82,"a":"Cars","b":"Passenger Cars"},{"l":3.0,"w":1.82,"a":"Cars","b":"Passenger Cars"},{"l":3.15,"w":1.82,"a":"Cars","b":"Passenger Cars"},{"l":3.3,"w":1.82,"a":"Cars","b":"Passenger Cars"},{"l":3.45,"w":1.82,"a":"Cars","b":"Passenger Cars"},{"l":3.6,"w":1.82,"a":"Cars","b":"Passenger Cars"},{"l":3.75,"w":1.82,"a":"Cars","b":"Passenger Cars"},{"l":3.9,"w":1.82,"a":"Cars","b":"Passenger Cars"},{"l":4.05,"w":1.82,"a":"Cars","b":"Passenger Cars"},{"l":4.2,"w":1.82,"a":"Cars","b":"Passenger Cars"},{"l":4.35,"w":1.82,"a":"Cars","b":"Passenger Cars"},{"l":4.5,"w":1.82,"a":"Cars","b":"Passenger Cars"},{"l":4.65,"w":1.82,"a":"Cars","b":"Passenger Cars"},{"l":4.8,"w":1.82,"a":"Cars","b":"Passenger Cars"},{"l":4.95,"w":1.82,"a":"Cars","b":"Passenger Cars"},{"l":5.1,"w":1.82,"a":"Cars","b":"Passenger Cars"},{"l":5.25,"w":1.82,"a":"Cars","b":"Passenger Cars"},{"l":5.4,"w":1.82,"a":"Cars","b":"Passenger Cars"},{"l":5.55,"w":1.82,"a":"Cars","b":"Passenger Cars"},{"l":5.7,"w":1.82,"a":"Cars","b":"Passenger Cars"},{"l":5.85,"w":1.82,"a":"Cars","b":"Passenger Cars"},
{"l":6.05,"w":1.82,"a":"Cars","b":"Medium-large Cars"},{"l":7.2,"w":1.82,"a":"Cars","b":"Medium-large Cars"},{"l":7.35,"w":1.82,"a":"Cars","b":"Medium-large Cars"},{"l":7.55,"w":1.82,"a":"Cars","b":"Medium-large Cars"},{"l":8.2,"w":1.82,"a":"Cars","b":"Medium-large Cars"},{"l":8.65,"w":1.82,"a":"Cars","b":"Medium-large Cars"},{"l":8.85,"w":1.82,"a":"Cars","b":"Medium-large Cars"},
{"l":3.4,"w":1.77,"a":"Cars","b":"Passenger Cars"},{"l":3.55,"w":1.77,"a":"Cars","b":"Passenger Cars"},{"l":3.8,"w":1.77,"a":"Cars","b":"Passenger Cars"},{"l":3.95,"w":1.77,"a":"Cars","b":"Passenger Cars"},{"l":4.1,"w":1.77,"a":"Cars","b":"Passenger Cars"},{"l":4.25,"w":1.77,"a":"Cars","b":"Passenger Cars"},{"l":4.4,"w":1.77,"a":"Cars","b":"Passenger Cars"},{"l":4.55,"w":1.77,"a":"Cars","b":"Passenger Cars"},{"l":4.7,"w":1.77,"a":"Cars","b":"Passenger Cars"},{"l":4.9,"w":1.77,"a":"Cars","b":"Passenger Cars"},
{"l":2.55,"w":1.72,"a":"Cars","b":"Passenger Cars"},{"l":2.7,"w":1.72,"a":"Cars","b":"Passenger Cars"},{"l":2.85,"w":1.72,"a":"Cars","b":"Passenger Cars"},{"l":3.0,"w":1.72,"a":"Cars","b":"Passenger Cars"},{"l":3.15,"w":1.72,"a":"Cars","b":"Passenger Cars"},{"l":3.3,"w":1.72,"a":"Cars","b":"Passenger Cars"},{"l":3.45,"w":1.72,"a":"Cars","b":"Passenger Cars"},{"l":3.6,"w":1.72,"a":"Cars","b":"Passenger Cars"},{"l":3.75,"w":1.72,"a":"Cars","b":"Passenger Cars"},{"l":3.9,"w":1.72,"a":"Cars","b":"Passenger Cars"},{"l":4.05,"w":1.72,"a":"Cars","b":"Passenger Cars"},{"l":4.2,"w":1.72,"a":"Cars","b":"Passenger Cars"},{"l":4.35,"w":1.72,"a":"Cars","b":"Passenger Cars"},{"l":4.5,"w":1.72,"a":"Cars","b":"Passenger Cars"},{"l":4.65,"w":1.72,"a":"Cars","b":"Passenger Cars"},{"l":4.8,"w":1.72,"a":"Cars","b":"Passenger Cars"},{"l":4.95,"w":1.72,"a":"Cars","b":"Passenger Cars"},{"l":5.1,"w":1.72,"a":"Cars","b":"Passenger Cars"},{"l":5.25,"w":1.72,"a":"Cars","b":"Passenger Cars"},{"l":5.4,"w":1.72,"a":"Cars","b":"Passenger Cars"},{"l":5.55,"w":1.72,"a":"Cars","b":"Passenger Cars"},{"l":5.7,"w":1.72,"a":"Cars","b":"Passenger Cars"},{"l":5.85,"w":1.72,"a":"Cars","b":"Passenger Cars"},{"l":7.4,"w":1.72,"a":"Cars","b":"Medium-large Cars"},
{"l":2.75,"w":1.67,"a":"Cars","b":"Passenger Cars"},{"l":3.5,"w":1.67,"a":"Cars","b":"Passenger Cars"},
{"l":2.55,"w":1.62,"a":"Cars","b":"Passenger Cars"},{"l":2.7,"w":1.62,"a":"Cars","b":"Passenger Cars"},{"l":2.85,"w":1.62,"a":"Cars","b":"Passenger Cars"},{"l":3.0,"w":1.62,"a":"Cars","b":"Passenger Cars"},{"l":3.15,"w":1.62,"a":"Cars","b":"Passenger Cars"},{"l":3.3,"w":1.62,"a":"Cars","b":"Passenger Cars"},{"l":3.45,"w":1.62,"a":"Cars","b":"Passenger Cars"},{"l":3.6,"w":1.62,"a":"Cars","b":"Passenger Cars"},{"l":3.75,"w":1.62,"a":"Cars","b":"Passenger Cars"},{"l":3.9,"w":1.62,"a":"Cars","b":"Passenger Cars"},{"l":4.05,"w":1.62,"a":"Cars","b":"Passenger Cars"},{"l":4.2,"w":1.62,"a":"Cars","b":"Passenger Cars"},{"l":4.35,"w":1.62,"a":"Cars","b":"Passenger Cars"},{"l":4.5,"w":1.62,"a":"Cars","b":"Passenger Cars"},{"l":4.7,"w":1.62,"a":"Cars","b":"Passenger Cars"},
{"l":2.55,"w":1.52,"a":"Cars","b":"Passenger Cars"},{"l":2.75,"w":1.52,"a":"Cars","b":"Passenger Cars"}
]},
"spacing":786,
"bounds":"flush",
"resolve":{"scale":{"color":"independent","shape":"independent","size":"independent","strokeWidth":"independent"}},
"hconcat":[
{
"width":1391,"height":1119,
"data":{"name":"pts"},
"title":{"text":"(a)","orient":"bottom","anchor":"middle","dx":-74,"fontSize":76,"font":"Liberation Serif","fontWeight":"bold","color":"black","offset":30},
"mark":{"type":"point","filled":false,"opacity":1},
"encoding":{
"x":{"field":"l","type":"quantitative","scale":{"domain":[0,16],"nice":false},"axis":{"title":"Vehicle length (m)","values":[0,2,4,6,8,10,12,14,16],"labelExpr":"datum.value % 4 === 0 ? datum.label : ''","tickSize":{"condition":{"test":"datum.value % 4 === 0","value":20},"value":9},"titlePadding":22}},
"y":{"field":"w","type":"quantitative","scale":{"domain":[1.25,3.5],"nice":false,"zero":false},"axis":{"title":"Vehicle width (m)","values":[1.25,1.5,1.75,2,2.25,2.5,2.75,3,3.25,3.5],"format":".1f","labelExpr":"(datum.value*2) % 1 === 0 ? datum.label : ''","tickSize":{"condition":{"test":"(datum.value*2) % 1 === 0","value":20},"value":9},"titlePadding":4}},
"color":{"field":"a","type":"nominal","title":null,"scale":{"domain":["Cars","Trucks"],"range":["#3a3d5e","#e96f4c"]}},
"shape":{"field":"a","type":"nominal","title":null,"scale":{"domain":["Cars","Trucks"],"range":["square","circle"]}},
"size":{"field":"a","type":"nominal","title":null,"scale":{"domain":["Cars","Trucks"],"range":[120,280]}},
"strokeWidth":{"field":"a","type":"nominal","title":null,"scale":{"domain":["Cars","Trucks"],"range":[5.5,3.2]}},
"order":{"field":"a","sort":"ascending"}
}
},
{
"width":1399,"height":1121,
"data":{"name":"pts"},
"title":{"text":"(b)","orient":"bottom","anchor":"middle","dx":-75,"fontSize":76,"font":"Liberation Serif","fontWeight":"bold","color":"black","offset":30},
"mark":{"type":"point","filled":false,"opacity":1},
"encoding":{
"x":{"field":"l","type":"quantitative","scale":{"domain":[0,16],"nice":false},"axis":{"title":"Vehicle length (m)","values":[0,2,4,6,8,10,12,14,16],"labelExpr":"datum.value % 4 === 0 ? datum.label : ''","tickSize":{"condition":{"test":"datum.value % 4 === 0","value":20},"value":9},"titlePadding":22}},
"y":{"field":"w","type":"quantitative","scale":{"domain":[1.25,3.5],"nice":false,"zero":false},"axis":{"title":"Vehicle width (m)","values":[1.25,1.5,1.75,2,2.25,2.5,2.75,3,3.25,3.5],"format":".1f","labelExpr":"(datum.value*2) % 1 === 0 ? datum.label : ''","tickSize":{"condition":{"test":"(datum.value*2) % 1 === 0","value":20},"value":9},"titlePadding":4}},
"color":{"field":"b","type":"nominal","title":null,"scale":{"domain":["Passenger Cars","Medium-large Cars","Extra-large Trucks"],"range":["#3a3d5e","#e96f4c","#6fb496"]}},
"shape":{"field":"b","type":"nominal","title":null,"scale":{"domain":["Passenger Cars","Medium-large Cars","Extra-large Trucks"],"range":["square","circle","triangle-up"]}},
"size":{"field":"b","type":"nominal","title":null,"scale":{"domain":["Passenger Cars","Medium-large Cars","Extra-large Trucks"],"range":[120,280,320]}},
"strokeWidth":{"field":"b","type":"nominal","title":null,"scale":{"domain":["Passenger Cars","Medium-large Cars","Extra-large Trucks"],"range":[5.5,3.2,2.6]}},
"order":{"field":"b","sort":"descending"}
}
}
]
}
